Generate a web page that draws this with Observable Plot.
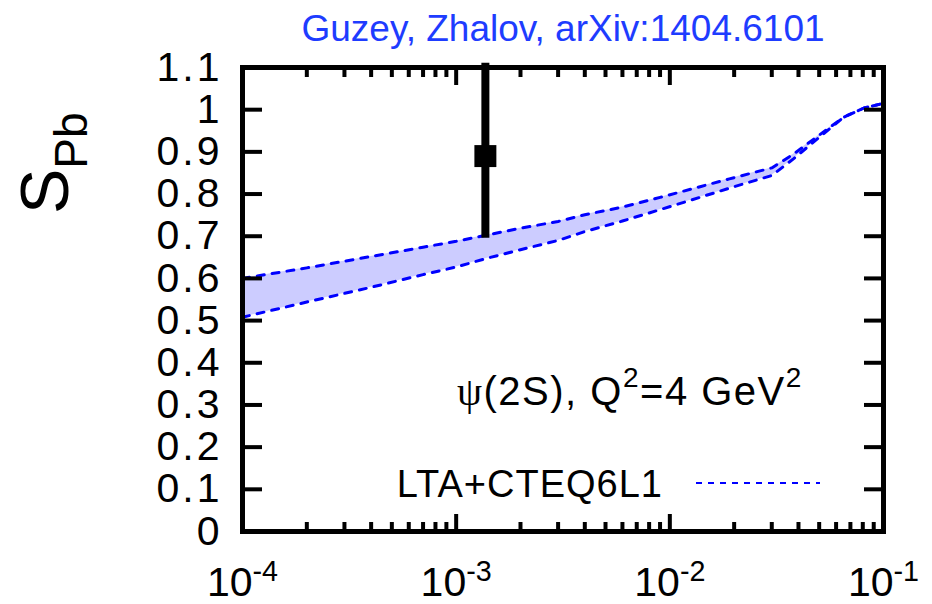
<!DOCTYPE html>
<html><head><meta charset="utf-8">
<script src="https://cdn.jsdelivr.net/npm/d3@7"></script>
<script src="https://cdn.jsdelivr.net/npm/@observablehq/plot@0.6"></script>
<style>
body{margin:0;background:#fff;}
svg{font-family:"Liberation Sans",Arial,Helvetica,sans-serif;}
</style>
</head><body><div id="chart"></div>
<script>
// ---- data ----
const titleText = "Guzey, Zhalov, arXiv:1404.6101";
const yLabelMain = "S";
const yLabelSub = "Pb";
const bandX     = [1e-4, 2e-4, 4e-4, 7e-4, 1e-3, 1.4e-3, 2e-3, 3e-3, 4e-3, 6e-3, 9e-3, 0.014, 0.019, 0.03, 0.038, 0.044, 0.065, 0.081, 0.1];
const bandUpper = [0.600, 0.625, 0.652, 0.674, 0.688, 0.703, 0.719, 0.735, 0.751, 0.769, 0.792, 0.818, 0.836, 0.862, 0.895, 0.919, 0.982, 1.004, 1.015];
const bandLower = [0.508, 0.544, 0.579, 0.609, 0.627, 0.648, 0.668, 0.690, 0.711, 0.736, 0.763, 0.793, 0.814, 0.844, 0.884, 0.911, 0.982, 1.004, 1.015];
const pointX    = [1.37e-3];
const pointY    = [0.89];
const pointLow  = [0.695];
const pointHigh = [1.11];
const yTicks = [0, 0.1, 0.2, 0.3, 0.4, 0.5, 0.6, 0.7, 0.8, 0.9, 1, 1.1];
const xMajorTicks = [1e-4, 1e-3, 1e-2, 1e-1];
const xMinorTicks = [2e-4,3e-4,4e-4,5e-4,6e-4,7e-4,8e-4,9e-4,
                     2e-3,3e-3,4e-3,5e-3,6e-3,7e-3,8e-3,9e-3,
                     2e-2,3e-2,4e-2,5e-2,6e-2,7e-2,8e-2,9e-2];
const legendLabel = "LTA+CTEQ6L1";
const annotPsi = "\u03C8";
const annotRest = "(2S), Q";
const annotMid = "=4 GeV";
const annotSup = "2";

// ---- tables built from the arrays ----
const band = bandX.map((x, i) => ({x, upper: bandUpper[i], lower: bandLower[i]}));
const points = pointX.map((x, i) => ({x, y: pointY[i], lo: pointLow[i], hi: pointHigh[i]}));

const blue = "#0000ff";
const W = 932, H = 604;
const mL = 242, mR = 49, mT = 67, mB = 73;

const chart = Plot.plot({
  width: W, height: H,
  marginLeft: mL, marginRight: mR, marginTop: mT, marginBottom: mB,
  style: {fontFamily: "Liberation Sans, Arial, sans-serif", fontSize: "40px", background: "white", color: "black", overflow: "visible"},
  x: {type: "log", domain: [1e-4, 0.1]},
  y: {domain: [0, 1.1]},
  marks: [
    Plot.areaY(band, {x: "x", y1: "lower", y2: "upper", fill: "#ccccff"}),
    Plot.line(band, {x: "x", y: "upper", stroke: blue, strokeWidth: 3, strokeDasharray: "7,8"}),
    Plot.line(band, {x: "x", y: "lower", stroke: blue, strokeWidth: 3, strokeDasharray: "7,8"}),
    Plot.ruleX(points, {x: "x", y1: "lo", y2: "hi", stroke: "black", strokeWidth: 8}),
    Plot.dot(points, {x: "x", y: "y", symbol: "square", r: 12.4, fill: "black", stroke: null}),
    // inward ticks
    Plot.axisY({anchor: "left", ticks: yTicks, tickSize: -20, strokeWidth: 4, tickFormat: () => "", label: null}),
    Plot.axisY({anchor: "right", ticks: yTicks, tickSize: -20, strokeWidth: 4, tickFormat: () => "", label: null}),
    Plot.axisX({anchor: "bottom", ticks: xMajorTicks, tickSize: -17, strokeWidth: 4, tickFormat: () => "", label: null}),
    Plot.axisX({anchor: "bottom", ticks: xMinorTicks, tickSize: -9, strokeWidth: 4, tickFormat: () => "", label: null}),
    Plot.axisX({anchor: "top", ticks: xMajorTicks, tickSize: -17, strokeWidth: 4, tickFormat: () => "", label: null}),
    Plot.axisX({anchor: "top", ticks: xMinorTicks, tickSize: -9, strokeWidth: 4, tickFormat: () => "", label: null}),
    // labels
    Plot.axisY({anchor: "left", ticks: yTicks, tickSize: 0, tickPadding: 20, fontSize: 41, label: null,
                tickFormat: d => String(+(+d).toFixed(1))}),
    Plot.axisX({anchor: "bottom", ticks: xMajorTicks, tickSize: 0, tickPadding: 35, fontSize: 41, label: null,
                tickFormat: d => String(Math.round(Math.log10(d)))}),
    Plot.frame({stroke: "black", strokeWidth: 5}),
    Plot.text([titleText], {frameAnchor: "top", dy: -27, fill: "#1e3cff", fontSize: 37, lineAnchor: "bottom"})
  ]
});
document.getElementById("chart").appendChild(chart);

const svg = d3.select(chart);
// remove empty tick texts; x tick labels as 10^n
svg.selectAll("g[aria-label$='tick label'] text").each(function() {
  const t = d3.select(this);
  if (t.text() === "") t.remove();
});
svg.selectAll("g[aria-label='y-axis tick label'] text").attr("letter-spacing", 3);
svg.selectAll("g[aria-label='x-axis tick label'] text").each(function() {
  const t = d3.select(this);
  const e = t.text();
  t.text("10");
  t.append("tspan").attr("dy", "-0.5em").attr("font-size", "0.7em").text(e);
});

// y-axis label S_Pb
const yl = svg.append("text")
  .attr("transform", "translate(68,214) rotate(-90)")
  .attr("text-anchor", "start")
  .attr("fill", "black");
yl.append("tspan").attr("font-size", 68).text(yLabelMain);
yl.append("tspan").attr("font-size", 46).attr("dy", 19).text(yLabelSub);

// annotation
const an = svg.append("text").attr("x", 457).attr("y", 405).attr("text-anchor", "start")
  .attr("font-size", 40).attr("letter-spacing", 1.5).attr("fill", "black");
an.append("tspan").attr("font-family", "Liberation Serif, DejaVu Serif, serif").text(annotPsi);
an.append("tspan").text(annotRest);
an.append("tspan").attr("dy", -18).attr("font-size", 28).text(annotSup);
an.append("tspan").attr("dy", 18).text(annotMid);
an.append("tspan").attr("dy", -18).attr("font-size", 28).text(annotSup);

// legend
svg.append("text").attr("x", 663).attr("y", 497).attr("text-anchor", "end").attr("font-size", 38)
  .attr("letter-spacing", 1).attr("fill", "black").text(legendLabel);
svg.append("line").attr("x1", 696).attr("x2", 820).attr("y1", 483).attr("y2", 483)
  .attr("stroke", blue).attr("stroke-width", 2).attr("stroke-dasharray", "6,6");
</script>
</body></html>
